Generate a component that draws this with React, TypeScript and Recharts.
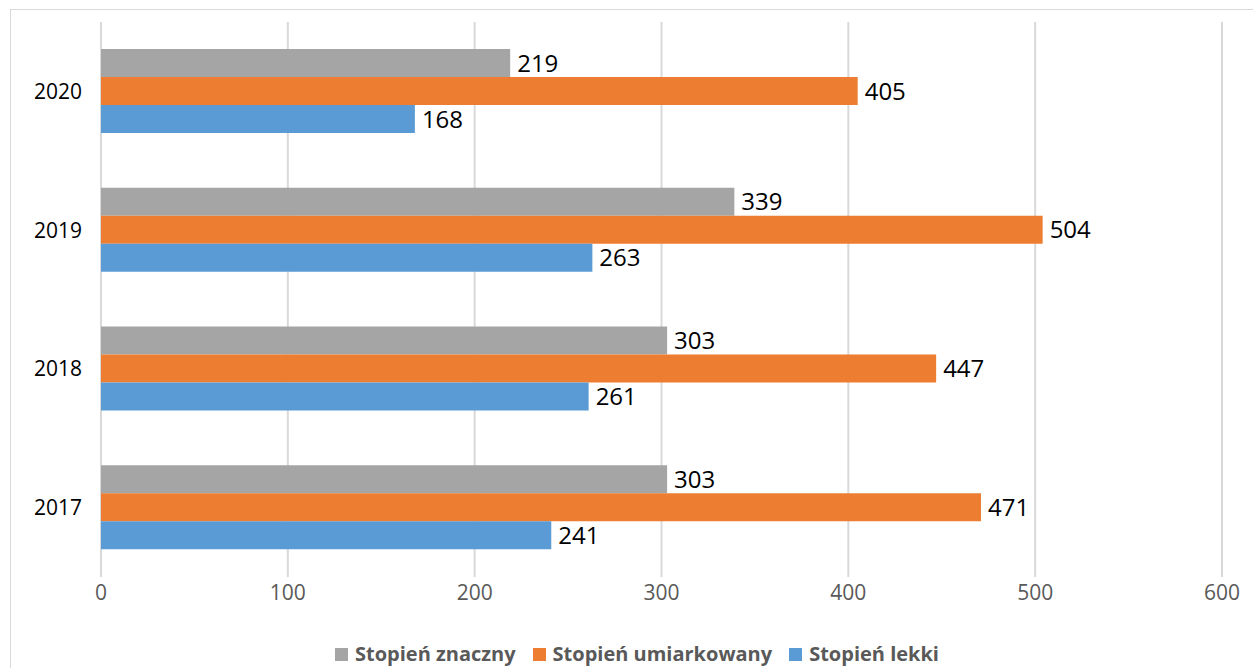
import { Bar, BarChart, CartesianGrid, LabelList, XAxis, YAxis } from "recharts";

const years = ["2020", "2019", "2018", "2017"];
const znaczny = [219, 339, 303, 303];
const umiarkowany = [405, 504, 447, 471];
const lekki = [168, 263, 261, 241];
const xTicks = [0, 100, 200, 300, 400, 500, 600];

const series = [
  { key: "znaczny", name: "Stopień znaczny", color: "#A5A5A5" },
  { key: "umiarkowany", name: "Stopień umiarkowany", color: "#ED7D31" },
  { key: "lekki", name: "Stopień lekki", color: "#5B9BD5" },
];

const data = years.map((year, i) => ({
  year,
  znaczny: znaczny[i],
  umiarkowany: umiarkowany[i],
  lekki: lekki[i],
}));

const FONT = "'Open Sans', 'Noto Sans', sans-serif";

function LegendRow() {
  return (
    <div
      style={{
        position: "absolute",
        left: 0,
        top: 634,
        width: 1258,
        display: "flex",
        justifyContent: "center",
        alignItems: "center",
        fontFamily: FONT,
      }}
    >
      {series.map((s, i) => (
        <div key={s.key} style={{ display: "flex", alignItems: "center", marginLeft: i === 0 ? 0 : 17 }}>
          <span style={{ width: 13, height: 13, background: s.color, display: "inline-block", marginRight: 7 }} />
          <span style={{ fontSize: 20, fontWeight: 700, color: "#595959", lineHeight: "24px" }}>{s.name}</span>
        </div>
      ))}
    </div>
  );
}

export default function App() {
  return (
    <div
      style={{
        position: "fixed",
        left: 8,
        top: 8,
        width: 1245,
        height: 660,
        overflow: "hidden",
        fontFamily: FONT,
        background: "#fff",
      }}
    >
      <div
        style={{
          position: "absolute",
          left: 2,
          top: 1,
          width: 1300,
          height: 700,
          border: "1px solid #d9d9d9",
          boxSizing: "border-box",
        }}
      />
      <BarChart
        width={1237}
        height={650}
        data={data}
        layout="vertical"
        margin={{ top: 14, right: 23, bottom: 51, left: 0 }}
        barCategoryGap="19.5%"
        barGap={0}
        style={{ fontFamily: FONT }}
      >
        <CartesianGrid horizontal={false} vertical stroke="#d9d9d9" strokeWidth={2} />
        <XAxis
          type="number"
          domain={[0, 600]}
          ticks={xTicks}
          tickLine={false}
          axisLine={false}
          height={30}
          tick={{ fill: "#595959", fontSize: 21 }}
        />
        <YAxis
          type="category"
          dataKey="year"
          width={93}
          tickLine={false}
          axisLine={false}
          tickMargin={13}
          tick={{ fill: "#000", fontSize: 21 }}
        />
        {series.map((s) => (
          <Bar key={s.key} dataKey={s.key} name={s.name} fill={s.color} isAnimationActive={false}>
            <LabelList dataKey={s.key} position="right" offset={7} fill="#000" fontSize={24} />
          </Bar>
        ))}
      </BarChart>
      <LegendRow />
    </div>
  );
}
